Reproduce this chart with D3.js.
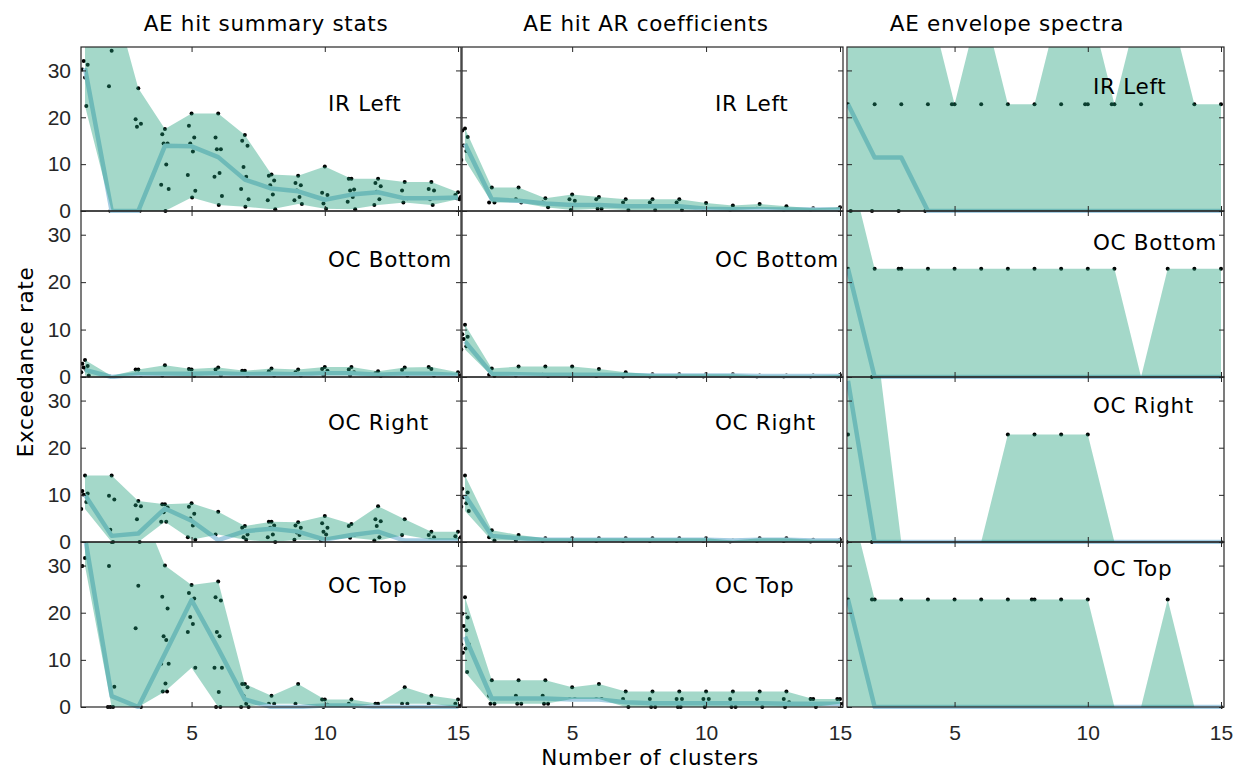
<!DOCTYPE html>
<html>
<head>
<meta charset="utf-8">
<script src="https://cdn.jsdelivr.net/npm/d3@7"></script>
<style>
  body { margin: 0; background: #fff; }
  text { font-family: "DejaVu Sans", Verdana, sans-serif; }
  .lbl { font-size: 21.5px; letter-spacing: 0.7px; fill: #000; }
  .tick text { font-family: "Liberation Sans", Arial, sans-serif; font-size: 21px; fill: #262626; letter-spacing: 0; }
  .tick line { stroke: #262626; }
</style>
</head>
<body>
<script>
// ---- data ----
var colTitles = ["AE hit summary stats", "AE hit AR coefficients", "AE envelope spectra"];
var rowLabels = ["IR Left", "OC Bottom", "OC Right", "OC Top"];
var clusters = [1, 2, 3, 4, 5, 6, 7, 8, 9, 10, 11, 12, 13, 14, 15];
var yTicks = [0, 10, 20, 30];
var xTicks = [5, 10, 15];

// exceedance rate of each run, one list per number of clusters
var sumIRLeft = [
  [28.5, 30.2, 31.2, 32.0, 22.4, 40], [34.2, 26.6, 0, 0, 47], [26.2, 19.6, 18.6, 18.0, 0, 0],
  [17.5, 16.4, 14.4, 14.4, 9.9, 5.6, 4.7, 0], [20.8, 18.2, 15.7, 14.4, 12.7, 7.7, 4.3, 2.9],
  [20.8, 15.7, 13.2, 13.2, 8.1, 7.3, 3.2, 1.3], [16.2, 15.0, 13.9, 9.4, 7.3, 4.7, 2.5, 0.9],
  [7.8, 7.5, 6.5, 5.5, 3.5, 2.3, 0.4], [7.5, 6.0, 5.5, 4.4, 3.0, 2.3, 1.5],
  [9.5, 3.9, 3.4, 1.6, 0.5], [6.9, 6.9, 4.6, 4.4, 3.0, 2.0, 0.4], [6.9, 6.0, 5.3, 4.1, 2.5, 1.3],
  [6.2, 4.4, 2.7, 1.8], [6.2, 4.7, 4.4, 2.5, 1.3], [4.0, 3.4, 3.0, 2.7, 2.5]
];
var sumIRLeftMed = [30.5, 0, 0, 13.9, 13.8, 11.5, 6.7, 4.8, 4.2, 2.4, 3.5, 4.0, 2.7, 2.7, 2.9];

var sumOCBottom = [
  [3.6, 2.8, 2.3, 2.0, 1.5, 1.0, 0.3], [0, 0.2], [1.6, 1.6, 0.4], [2.5, 0.3], [1.6, 1.7, 0.2],
  [2.0, 1.6, 0.3], [1.3, 1.3, 0.3], [1.8, 1.2, 0.3], [1.6, 1.0, 0.3], [2.1, 1.7, 1.3, 0.3],
  [2.1, 1.6, 1.0, 0.3], [1.2, 0.8, 0.2], [2.0, 1.5, 0.3], [1.7, 2.1, 0.3], [1.0, 0.5, 0.3]
];
var sumOCBottomMed = [1.5, 0, 0.6, 0.7, 0.7, 0.8, 0.6, 0.7, 0.6, 0.8, 0.8, 0.5, 0.7, 0.7, 0.4];

var sumOCRight = [
  [14.1, 10.8, 10.3, 10.0, 8.5, 7.0], [14.1, 9.8, 9.0, 2.6, 0], [8.7, 7.8, 7.6, 4.8, 0],
  [8.0, 8.0, 7.3, 6.3, 4.3, 4.3], [8.2, 7.5, 6.0, 5.0, 3.5, 1.0, 0.5], [6.4, 1.6],
  [3.4, 3.0, 1.6, 1.0, 0.5], [4.3, 4.3, 3.5, 3.0, 1.6, 1.0, 0], [4.2, 3.5, 3.0, 2.0, 1.5, 0.5],
  [5.5, 4.0, 3.0, 2.2, 1.6, 0.3], [3.8, 3.4, 1.5, 0.9], [7.6, 4.8, 4.4, 3.4, 1.0, 0.3],
  [4.8, 1.5], [2.2, 1.5, 1.0, 0.5], [2.2, 1.2, 1.0, 0.5]
];
var sumOCRightMed = [10.0, 1.3, 1.8, 7.1, 4.5, 0.4, 2.3, 2.8, 2.2, 0.5, 1.5, 2.2, 0.3, 0.3, 0.3];

var sumOCTop = [
  [31.6, 29.9, 38, 40], [35.0, 29.9, 4.3, 0, 0, 0], [25.7, 16.7, 0, 44],
  [30.0, 23.4, 20.9, 15.0, 14.2, 9.2, 9.2, 5.0, 3.3, 3.3], [25.9, 24.2, 23.0, 19.1, 17.6, 15.9, 8.3],
  [26.6, 23.3, 22.6, 15.9, 15.0, 8.3, 8.3, 3.2, 0, 0], [4.9, 4.9, 4.2, 2.4, 0.7, 0, 0],
  [2.4, 0.7, 0.7], [4.9, 0.7], [1.6, 1.6, 0.5, 0], [1.6, 0.7, 0], [0.7, 0.7],
  [4.2, 0.7, 0.7], [2.4, 0.7], [1.6, 0.7, 0.3, 0]
];
var sumOCTopMed = [36, 2.3, 0, 11.3, 22.7, 12.4, 1.6, 0, 0, 0.3, 0.3, 0, 0, 0, 0];

var arIRLeft = [
  [17.6, 17.2, 15.8, 14.0, 12.8, 10.9], [5.0, 1.8, 1.8], [5.0, 2.5, 1.8], [2.7, 1.8, 0.8],
  [3.5, 2.5, 2.2, 0.2], [3.0, 2.5, 0.5, 0.5], [2.5, 1.8, 0.2], [2.5, 1.8, 0.2], [2.5, 1.8, 0.2],
  [1.7, 0.4], [1.2, 0.2], [1.5, 0.5], [1.0, 0.2], [0.6, 0.2], [0.8, 0.3]
];
var arIRLeftMed = [14.3, 2.5, 2.2, 1.6, 1.3, 1.3, 1.0, 1.0, 1.0, 0.5, 0.4, 0.4, 0.3, 0.3, 0.3];

var arOCBottom = [
  [11.0, 9.0, 8.5, 8.0, 6.5, 5.8], [1.8, 0.5, 0.2], [2.2, 0.3], [2.2, 0.5, 0.2], [2.2, 0.2],
  [1.7, 0.2], [1.0, 0.1], [0.6, 0.1], [0.6, 0.1], [0.6, 0.1], [0.6, 0.1], [0.3, 0.1],
  [0.3, 0.1], [0.3, 0.1], [0.4, 0.1]
];
var arOCBottomMed = [7.5, 0.7, 0.6, 0.5, 0.5, 0.5, 0.4, 0.3, 0.3, 0.3, 0.3, 0.2, 0.2, 0.2, 0.2];

var arOCRight = [
  [14.1, 11.3, 10.5, 9.5, 8.2, 7.5, 6.6], [2.5, 1.0, 0.3], [1.5, 0.3], [0.8, 0.2], [0.8, 0.2],
  [0.8, 0.2], [0.8, 0.2], [0.8, 0.2], [0.8, 0.2], [0.8, 0.2], [0.3, 0.1], [0.8, 0.2],
  [0.8, 0.2], [0.5, 0.1], [0.5, 0.1]
];
var arOCRightMed = [9.9, 1.3, 0.8, 0.5, 0.5, 0.5, 0.5, 0.5, 0.5, 0.5, 0.3, 0.5, 0.5, 0.3, 0.3];

var arOCTop = [
  [23.3, 19.8, 19.0, 17.2, 16.3, 13.3, 13.3, 12.4, 11.5, 7.4], [5.7, 2.4, 0.7, 0.7],
  [5.7, 2.4, 0.7, 0.7], [5.7, 2.4, 0.7, 0.7], [4.2, 1.7, 1.7], [4.9, 1.7, 1.7], [3.3, 1.7, 0],
  [3.3, 1.7, 0, 0], [3.3, 1.7, 1.7, 0, 0], [3.3, 1.7, 1.7, 0], [3.3, 1.7, 0, 0], [3.3, 1.7, 0],
  [3.3, 1.7, 1.0, 0], [1.7, 1.7, 0], [1.7, 1.7, 0.7]
];
var arOCTopMed = [14.9, 1.8, 1.8, 1.8, 1.6, 1.6, 1.0, 0.8, 0.8, 0.8, 0.8, 0.8, 0.7, 0.7, 0.7];

var envIRLeft = [
  [22.8, 22.8, 0, 45.6, 45.6], [22.8, 0, 45.6], [22.8, 0, 45.6], [22.8, 0, 45.6], [22.8, 22.8, 0],
  [22.8, 0, 45.6], [22.8, 0], [22.8, 0], [22.8, 0, 45.6], [22.8, 22.8, 0, 45.6], [22.8, 22.8, 0],
  [22.8, 0, 45.6], [0, 45.6], [22.8, 0], [22.8, 0]
];
var envIRLeftMed = [22.8, 11.4, 11.4, 0, 0, 0, 0, 0, 0, 0, 0, 0, 0, 0, 0];

var envOCBottom = [
  [22.8, 0, 45.6], [22.8, 0], [22.8, 22.8, 0], [22.8, 0], [22.8, 0], [22.8, 0], [22.8, 0],
  [22.8, 0], [22.8, 0], [22.8, 0], [22.8, 0], [0], [22.8, 0], [22.8, 0], [22.8, 0]
];
var envOCBottomMed = [22.8, 0, 0, 0, 0, 0, 0, 0, 0, 0, 0, 0, 0, 0, 0];

var envOCRight = [
  [22.8, 45.6, 45.6, 0], [45.6, 0, 0], [0], [0], [0], [0], [22.8, 0], [22.8, 0], [22.8, 0],
  [22.8, 0], [0], [0], [0], [0], [0]
];
var envOCRightMed = [34.2, 0, 0, 0, 0, 0, 0, 0, 0, 0, 0, 0, 0, 0, 0];

var envOCTop = [
  [22.8, 0, 45.6], [22.8, 22.8, 0], [22.8, 0], [22.8, 0], [22.8, 0], [22.8, 0], [22.8, 0],
  [22.8, 22.8, 0], [22.8, 0], [22.8, 0], [0], [0], [22.8, 0], [0], [0]
];
var envOCTopMed = [22.8, 0, 0, 0, 0, 0, 0, 0, 0, 0, 0, 0, 0, 0, 0];

// rows x columns
var panelPts = [
  [sumIRLeft, arIRLeft, envIRLeft],
  [sumOCBottom, arOCBottom, envOCBottom],
  [sumOCRight, arOCRight, envOCRight],
  [sumOCTop, arOCTop, envOCTop]
];
var panelMed = [
  [sumIRLeftMed, arIRLeftMed, envIRLeftMed],
  [sumOCBottomMed, arOCBottomMed, envOCBottomMed],
  [sumOCRightMed, arOCRightMed, envOCRightMed],
  [sumOCTopMed, arOCTopMed, envOCTopMed]
];

// ---- layout ----
var colLeft = [81, 462, 847], colRight = [461, 843, 1224];
var colX1 = [85, 465, 848], colX15 = [458, 840, 1221];
var rowTop = [47, 211, 377, 542], rowBottom = [211, 377, 542, 707];
var labelDx = [247, 253, 246];
var labelDy = [[64, 64, 47], [56, 56, 39], [53, 53, 36], [51, 51, 34]];
var titleX = [266, 646, 1007];
var jit = [0, -0.1, 0.1, -0.05, 0.05, -0.14, 0.14, 0.02, -0.08, 0.08];

var svg = d3.select("body").append("svg")
  .attr("width", 1251)
  .attr("height", 776);
var defs = svg.append("defs");
var content = svg.append("g");
var axes = svg.append("g");

panelPts.forEach(function(row, ri) {
  row.forEach(function(pts, ci) {
    var med = panelMed[ri][ci];
    var x = d3.scaleLinear().domain([1, 15]).range([colX1[ci], colX15[ci]]);
    var y = d3.scaleLinear().domain([0, 35]).range([rowBottom[ri], rowTop[ri]]);
    var w = colRight[ci] - colLeft[ci], h = rowBottom[ri] - rowTop[ri];

    var id = "clip" + ri + "" + ci;
    defs.append("clipPath").attr("id", id)
      .append("rect")
      .attr("x", colLeft[ci]).attr("y", rowTop[ri])
      .attr("width", w).attr("height", h + 2);

    var plot = content.append("g").attr("clip-path", "url(#" + id + ")");

    // individual runs
    pts.forEach(function(vals, i) {
      vals.forEach(function(v, j) {
        plot.append("circle")
          .attr("cx", x(clusters[i] + jit[j % jit.length]))
          .attr("cy", y(v))
          .attr("r", 2)
          .attr("fill", "#000");
      });
    });

    // median line (sits under the band)
    plot.append("path")
      .datum(med)
      .attr("d", d3.line().x(function(d, i) { return x(clusters[i]); }).y(function(d) { return y(d); }))
      .attr("fill", "none")
      .attr("stroke", "#a6cee3")
      .attr("stroke-width", 4.5)
      .attr("stroke-linejoin", "round");

    // min-max band
    plot.append("path")
      .datum(pts)
      .attr("d", d3.area()
        .x(function(d, i) { return x(clusters[i]); })
        .y0(function(d) { return y(d3.min(d)); })
        .y1(function(d) { return y(d3.max(d)); }))
      .attr("fill", "#1b9e77")
      .attr("fill-opacity", 0.4);

    // axes, ticks inside on all four sides
    var g = axes.append("g");
    g.append("g").attr("transform", "translate(" + colLeft[ci] + ",0)")
      .call(d3.axisLeft(y).tickValues(yTicks).tickSize(-5).tickPadding(10)
        .tickFormat(ci === 0 ? d3.format("d") : ""));
    g.append("g").attr("transform", "translate(" + colRight[ci] + ",0)")
      .call(d3.axisRight(y).tickValues(yTicks).tickSize(-5).tickFormat(""));
    g.append("g").attr("transform", "translate(0," + rowBottom[ri] + ")")
      .call(d3.axisBottom(x).tickValues(xTicks).tickSize(-5).tickPadding(18)
        .tickFormat(ri === 3 ? d3.format("d") : ""));
    g.append("g").attr("transform", "translate(0," + rowTop[ri] + ")")
      .call(d3.axisTop(x).tickValues(xTicks).tickSize(-5).tickFormat(""));
    g.selectAll(".domain").remove();

    g.append("rect")
      .attr("x", colLeft[ci]).attr("y", rowTop[ri])
      .attr("width", w).attr("height", h)
      .attr("fill", "none")
      .attr("stroke", "#262626")
      .attr("stroke-width", 1.2);

    g.append("text")
      .attr("class", "lbl")
      .attr("x", colLeft[ci] + labelDx[ci])
      .attr("y", rowTop[ri] + labelDy[ri][ci])
      .text(rowLabels[ri]);
  });
});

// column titles
colTitles.forEach(function(t, ci) {
  svg.append("text")
    .attr("class", "lbl")
    .attr("x", titleX[ci]).attr("y", 31)
    .attr("text-anchor", "middle")
    .text(t);
});

svg.append("text")
  .attr("class", "lbl")
  .attr("transform", "translate(33,362) rotate(-90)")
  .attr("text-anchor", "middle")
  .text("Exceedance rate");

svg.append("text")
  .attr("class", "lbl")
  .attr("x", 650).attr("y", 765)
  .attr("text-anchor", "middle")
  .text("Number of clusters");
</script>
</body>
</html>
